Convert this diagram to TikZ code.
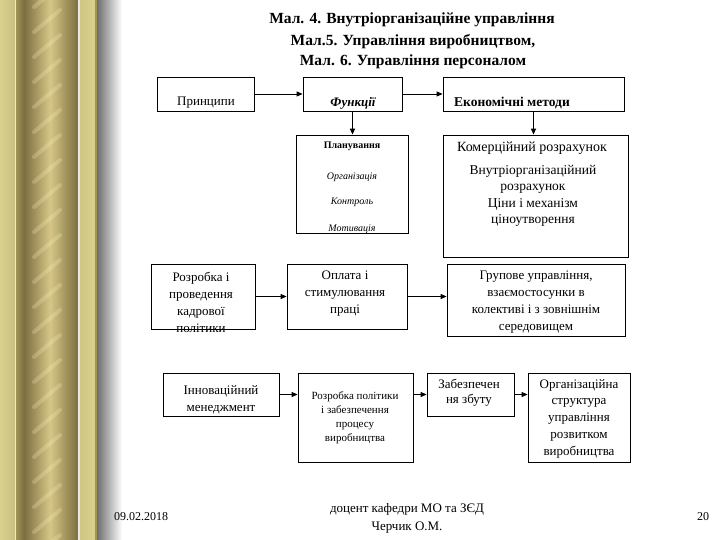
\documentclass[tikz,border=0pt]{standalone}
\usepackage{fontspec}
\setmainfont{Liberation Serif}
\usetikzlibrary{arrows.meta}

\definecolor{palegold}{HTML}{DAD08C}
\definecolor{darkgold}{HTML}{7C6E40}
\definecolor{midgold}{HTML}{D6C686}
\definecolor{olivegold}{HTML}{A09458}

\tikzset{
  box/.style={draw, line width=0.8pt, inner sep=0pt},
  txt/.style={align=center, inner sep=0pt, font=\fontsize{13}{16.5}\selectfont},
  smalltxt/.style={align=center, inner sep=0pt, font=\fontsize{11}{14}\selectfont},
  tinytxt/.style={align=center, inner sep=0pt, font=\fontsize{10}{12}\selectfont},
  titletxt/.style={inner sep=0pt, font=\fontsize{15.5}{18}\selectfont\bfseries},
  arr/.style={->, line width=0.8pt},
  varr/.style={->, line width=1.6pt},
}

\begin{document}
\begin{tikzpicture}[x=1pt, y=-1pt, >={Triangle[length=6pt,width=5pt]}]
    \useasboundingbox (0,0) rectangle (720,540);
    \fill[white] (0,0) rectangle (720,540);

    % Golden column on the left
    \shade[left color=palegold, right color=palegold!92!black] (0,0) rectangle (15,540);
    \draw[palegold!50!white, line width=1pt] (15.5,0) -- (15.5,540);
    \shade[left color=olivegold, right color=darkgold] (16,0) rectangle (24,540);
    \shade[left color=darkgold, right color=midgold] (24,0) rectangle (50,540);
    \shade[left color=midgold, right color=darkgold] (50,0) rectangle (78,540);
    \begin{scope}
        \clip (26,0) rectangle (76,540);
        \foreach \y in {-40,-15,...,600}
            \draw[white!80!yellow, opacity=0.22, line width=4pt, line cap=round] (34,\y+22) -- (60,\y);
    \end{scope}
    \draw[palegold!50!white, line width=1pt] (79,0) -- (79,540);
    \shade[left color=palegold!95!black, right color=palegold] (80,0) rectangle (95,540);
    \fill[olivegold] (95,0) rectangle (97,540);
    \shade[left color=black!57, right color=white] (97,0) rectangle (122,540); % shadow

    % Title
    \node[titletxt] (title1) at (412,20) {Мал. 4. Внутріорганізаційне управління};
    \node[titletxt] (title2) at (413,42) {Мал.5. Управління виробництвом,};
    \node[titletxt] (title3) at (413,62) {Мал. 6. Управління персоналом};

    % Top row
    \node[box, minimum width=97pt, minimum height=34pt] (princ) at (205.5,94) {};
    \node[box, minimum width=99pt, minimum height=34pt] (func) at (352.5,94) {};
    \node[box, minimum width=181pt, minimum height=34pt] (econ) at (533.5,94) {};
    \node[txt] (princtxt) at (206,103) {Принципи};
    \node[txt, font=\fontsize{13}{16}\selectfont\bfseries\itshape] (functxt) at (353,103) {Функції};
    \node[txt, font=\fontsize{13.5}{16}\selectfont\bfseries] (econtxt) at (512,103) {Економічні методи};

    % Functions and methods
    \node[box, minimum width=112pt, minimum height=98pt] (plan) at (352,184) {};
    \node[tinytxt, font=\fontsize{10}{12}\selectfont\bfseries] (plantxt) at (352,146) {Планування};
    \node[tinytxt, font=\fontsize{10}{12}\selectfont\itshape] (orgtxt) at (352,177) {Організація};
    \node[tinytxt, font=\fontsize{10}{12}\selectfont\itshape] (ctrltxt) at (352,202) {Контроль};
    \node[tinytxt, font=\fontsize{10}{12}\selectfont\itshape] (mottxt) at (352,229) {Мотивація};

    \node[box, minimum width=185pt, minimum height=122pt] (kom) at (535.5,196) {};
    \node[txt, font=\fontsize{14}{16}\selectfont] (komtxt) at (532,148) {Комерційний розрахунок};
    \node[txt, font=\fontsize{13.5}{16.5}\selectfont] (vnutxt) at (533,196) {Внутріорганізаційний\\розрахунок\\Ціни і механізм\\ціноутворення};

    % Third row
    \node[box, minimum width=104pt, minimum height=65pt] (rozr) at (203,296.5) {};
    \node[txt, font=\fontsize{13}{17}\selectfont] (rozrtxt) at (201,302.5) {Розробка і\\проведення\\кадрової\\політики};
    \node[box, minimum width=120pt, minimum height=65pt] (opl) at (347,296.5) {};
    \node[txt, font=\fontsize{13}{17}\selectfont] (opltxt) at (345,294) {Оплата і\\стимулювання\\праці};
    \node[box, minimum width=178pt, minimum height=72pt] (grup) at (536,300) {};
    \node[txt, font=\fontsize{13}{17}\selectfont] (gruptxt) at (536,302.5) {Групове управління,\\взаємостосунки в\\колективі і з зовнішнім\\середовищем};

    % Bottom row
    \node[box, minimum width=116pt, minimum height=43pt] (innov) at (221,394.5) {};
    \node[txt] (innovtxt) at (221,400) {Інноваційний\\менеджмент};
    \node[box, minimum width=115pt, minimum height=89pt] (polit) at (355.5,417.5) {};
    \node[smalltxt] (polittxt) at (355,418) {Розробка політики\\і забезпечення\\процесу\\виробництва};
    \node[box, minimum width=87pt, minimum height=43pt] (zbut) at (470.5,394.5) {};
    \node[txt, font=\fontsize{13}{15}\selectfont] (zbuttxt) at (469,392.5) {Забезпечен\\ня збуту};
    \node[box, minimum width=102pt, minimum height=89pt] (org) at (579,417.5) {};
    \node[txt, font=\fontsize{13}{16.75}\selectfont] (orgstxt) at (579,418.5) {Організаційна\\структура\\управління\\розвитком\\виробництва};

    % Draw arrows
    \draw[arr] (princ) -- (func);
    \draw[arr] (func) -- (econ);
    \draw[varr] (func.south) -- (func.south |- plan.north);
    \draw[varr] (econ.south) -- (econ.south |- kom.north);
    \draw[arr] (rozr) -- (opl);
    \draw[arr] (opl.east) -- (opl.east -| grup.west);
    \draw[arr] (innov.east) -- (innov.east -| polit.west);
    \draw[arr] (polit.east |- zbut.west) -- (zbut.west);
    \draw[arr] (zbut.east) -- (zbut.east -| org.west);

    % Footer
    \node[txt, font=\fontsize{12}{14}\selectfont] (date) at (141,517) {09.02.2018};
    \node[txt, font=\fontsize{13}{18}\selectfont] (author) at (407,518) {доцент кафедри МО та ЗЄД\\Черчик О.М.};
    \node[txt, font=\fontsize{12}{14}\selectfont] (page) at (703,517) {20};
\end{tikzpicture}
\end{document}
